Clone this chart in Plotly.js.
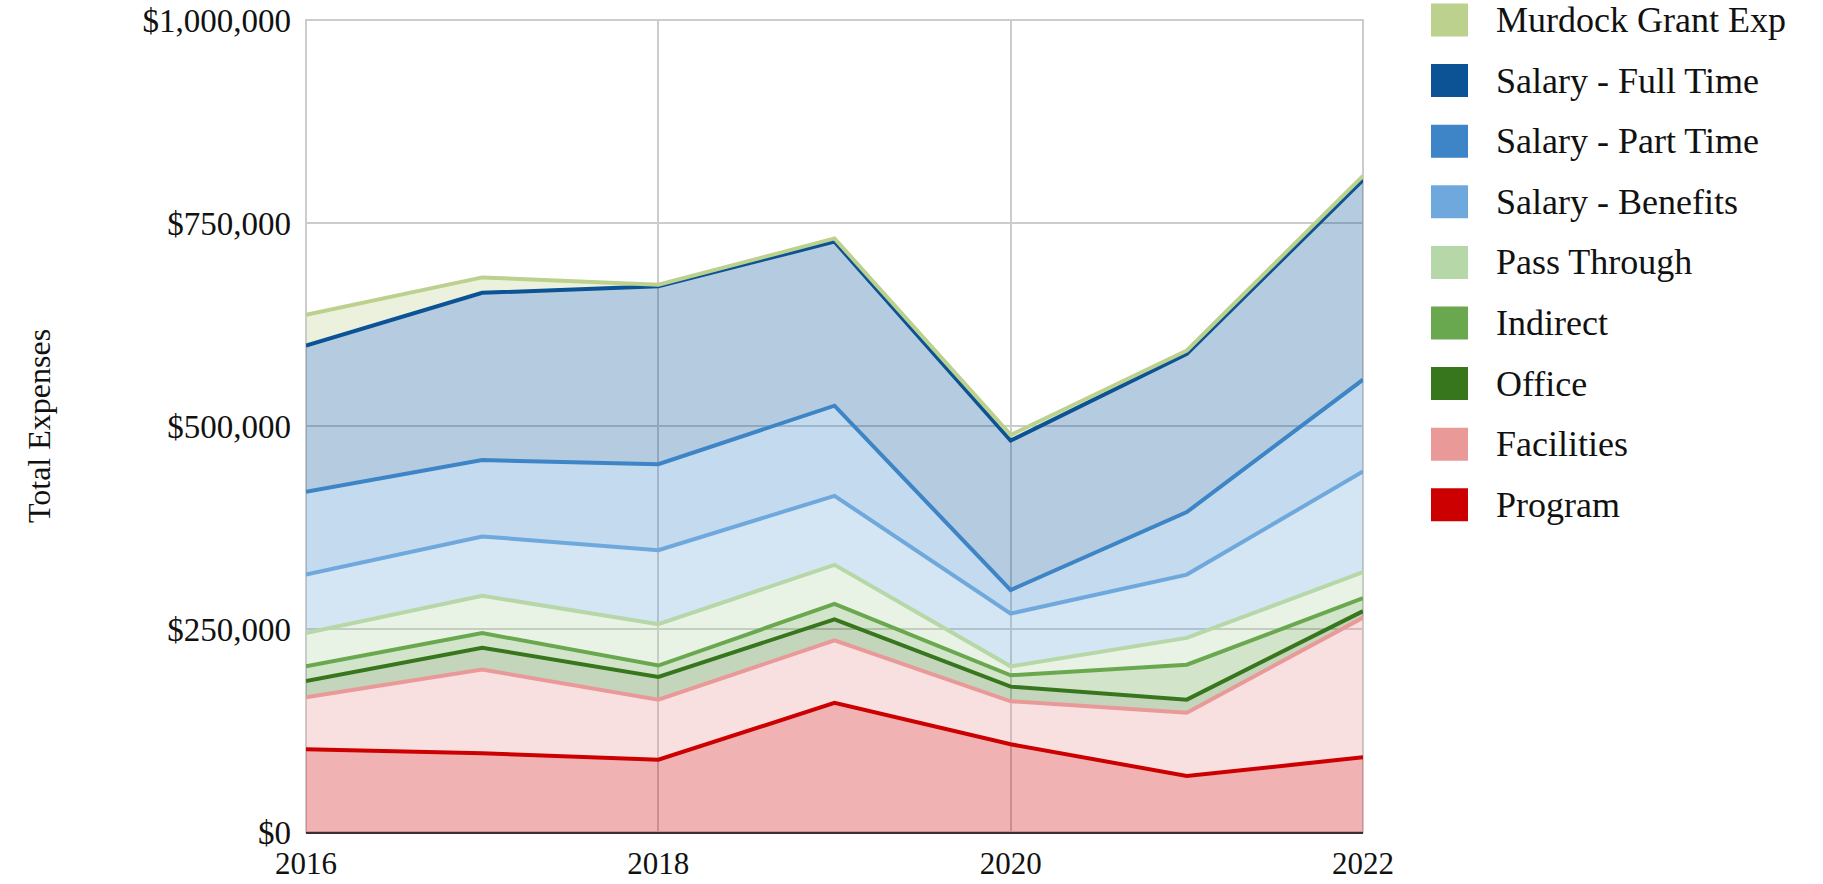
<!DOCTYPE html>
<html>
<head>
<meta charset="utf-8">
<script src="https://cdn.plot.ly/plotly-3.0.1.min.js"></script>
<style>
  html, body { margin: 0; padding: 0; background: #ffffff; }
  #chart { width: 1823px; height: 884px; }
</style>
</head>
<body>
<div id="chart"></div>
<script>
// ---- data (USD per year, each series is its own layer; the chart stacks them) ----
const years = [2016, 2017, 2018, 2019, 2020, 2021, 2022];
const program      = [102000,  97000,  89000, 159000, 108000,  69000,  92000];
const facilities   = [ 64000, 103000,  74000,  77000,  53000,  78000, 172000];
const office       = [ 20000,  27000,  28000,  26000,  18000,  16000,   8000];
const indirect     = [ 18000,  18000,  14000,  19000,  14000,  43000,  16000];
const passThrough  = [ 41000,  46000,  51000,  48000,  11000,  33000,  32000];
const benefits     = [ 72000,  73000,  91000,  85000,  65000,  78000, 124000];
const partTime     = [102000,  94000, 106000, 111000,  29000,  77000, 113000];
const fullTime     = [180000, 206000, 219000, 202000, 184000, 195000, 246000];
const murdock      = [ 38000,  19000,   2000,   4000,   7000,   4000,   5000];

const seriesNames = ["Program", "Facilities", "Office", "Indirect", "Pass Through",
                     "Salary - Benefits", "Salary - Part Time", "Salary - Full Time", "Murdock Grant Exp"];
const seriesValues = [program, facilities, office, indirect, passThrough,
                      benefits, partTime, fullTime, murdock];
const seriesColors = [[204,0,0],[234,153,153],[56,118,29],[106,168,79],[182,215,168],
                      [111,168,220],[61,133,198],[11,83,148],[188,209,142]];
const xTicks = [2016, 2018, 2020, 2022];
const xTickLabels = ["2016", "2018", "2020", "2022"];
const yTicks = [0, 250000, 500000, 750000, 1000000];
const yTickLabels = ["$0", "$250,000", "$500,000", "$750,000", "$1,000,000"];

// ---- layout constants ----
const W = 1823, H = 884;
const M = {l: 306, r: 460, t: 20, b: 52};
const plotW = W - M.l - M.r, plotH = H - M.t - M.b;
const FONT = "Liberation Serif, Times New Roman, serif";

const rgb = c => `rgb(${c[0]},${c[1]},${c[2]})`;
const rgba = (c, a) => `rgba(${c[0]},${c[1]},${c[2]},${a})`;

const traces = seriesNames.map((name, i) => ({
  type: 'scatter',
  mode: 'lines',
  name: name,
  x: years,
  y: seriesValues[i],
  stackgroup: 'expenses',
  fill: 'tonexty',
  line: {color: rgb(seriesColors[i]), width: 4},
  fillcolor: rgba(seriesColors[i], 0.3),
  showlegend: false,
  hoverinfo: 'x+y+name'
}));

// ---- plot frame (grey top/right/left border like the gridlines) ----
const shapes = [{
  type: 'rect', xref: 'paper', yref: 'paper', x0: 0, x1: 1, y0: 0, y1: 1,
  line: {color: '#cccccc', width: 2}, layer: 'below'
}];
// ---- legend drawn as shapes + annotations (top item = last series) ----
const annotations = [];
const px2x = px => (px - M.l) / plotW;
const py2y = py => 1 - (py - M.t) / plotH;
const legendOrder = seriesNames.map((_, i) => i).reverse();
legendOrder.forEach((si, k) => {
  const cy = 20 + k * 60.6;
  const x0 = 1431, x1 = 1468, h = 33;
  shapes.push({
    type: 'rect', xref: 'paper', yref: 'paper',
    x0: px2x(x0), x1: px2x(x1), y0: py2y(cy + h / 2), y1: py2y(cy - h / 2),
    fillcolor: rgb(seriesColors[si]), line: {width: 0}
  });
  annotations.push({
    xref: 'paper', yref: 'paper', x: px2x(1494), y: py2y(cy),
    xanchor: 'left', yanchor: 'middle', showarrow: false,
    text: seriesNames[si],
    font: {family: FONT, size: 36, color: '#111111'}
  });
});

const layout = {
  width: W, height: H,
  margin: M,
  paper_bgcolor: '#ffffff',
  plot_bgcolor: '#ffffff',
  showlegend: false,
  font: {family: FONT, color: '#111111'},
  xaxis: {
    range: [2016, 2022],
    tickmode: 'array',
    tickvals: xTicks,
    ticktext: xTickLabels,
    showgrid: true, gridcolor: '#cccccc', gridwidth: 2,
    zeroline: false,
    showline: true, linecolor: '#3a3030', linewidth: 2,
    ticks: '',
    ticklabelstandoff: 3,
    tickfont: {family: FONT, size: 31, color: '#111111'},
    fixedrange: true
  },
  yaxis: {
    range: [0, 1000000],
    tickmode: 'array',
    tickvals: yTicks,
    ticktext: yTickLabels,
    showgrid: true, gridcolor: '#cccccc', gridwidth: 2,
    zeroline: false,
    showline: false,
    ticks: '',
    ticklabelstandoff: 14,
    tickfont: {family: FONT, size: 33, color: '#111111'},
    title: {text: 'Total Expenses', standoff: 82, font: {family: FONT, size: 32, color: '#111111'}},
    fixedrange: true
  },
  shapes: shapes,
  annotations: annotations
};

Plotly.newPlot('chart', traces, layout, {displayModeBar: false, staticPlot: true});
</script>
</body>
</html>
